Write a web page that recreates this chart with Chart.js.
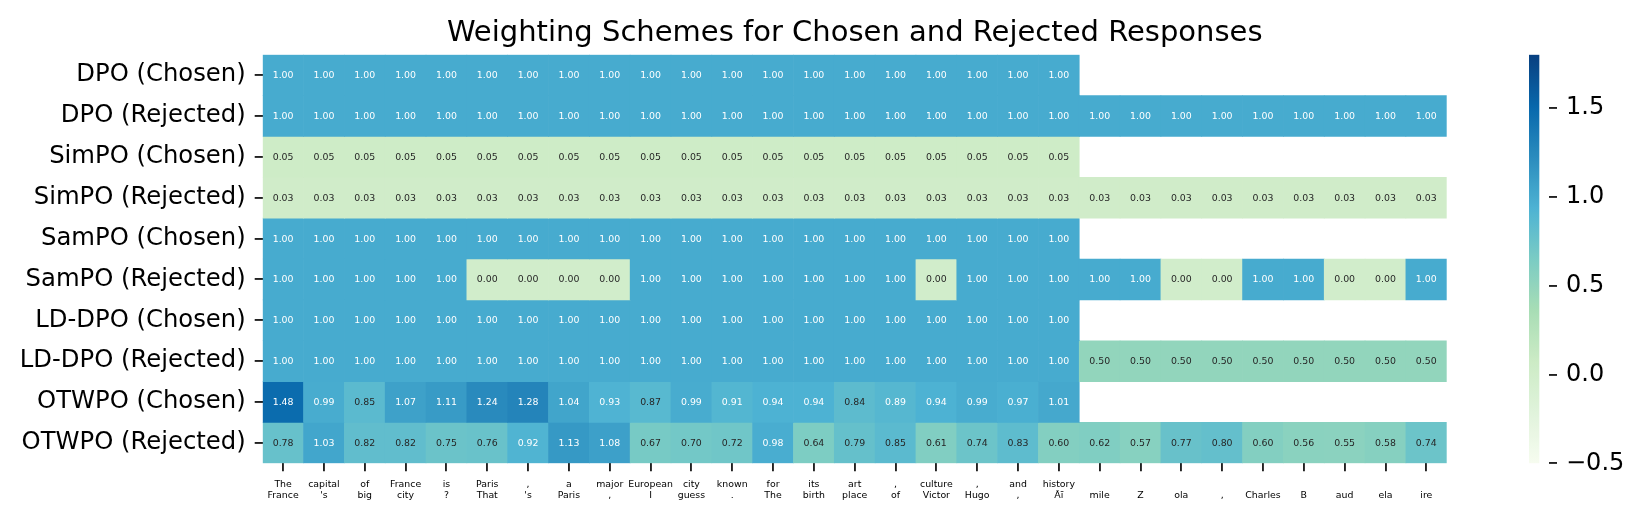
<!DOCTYPE html>
<html>
<head>
<meta charset="utf-8">
<script src="https://cdn.jsdelivr.net/npm/chart.js@4.4.1/dist/chart.umd.min.js"></script>
<style>
  html, body { margin: 0; padding: 0; background: #ffffff; }
  #wrap { position: relative; width: 1644px; height: 519px; overflow: hidden; background: #ffffff; }
  #main { position: absolute; left: 0; top: 0; }
  #cbar { position: absolute; left: 1500px; top: 0; }
</style>
</head>
<body>
<div id="wrap">
  <canvas id="main" width="1644" height="519"></canvas>
  <canvas id="cbar" width="144" height="519"></canvas>
</div>
<script>
// ---------------- DATA ----------------
const titleText = 'Weighting Schemes for Chosen and Rejected Responses';

const rowLabels = ['DPO (Chosen)', 'DPO (Rejected)', 'SimPO (Chosen)', 'SimPO (Rejected)',
  'SamPO (Chosen)', 'SamPO (Rejected)', 'LD-DPO (Chosen)', 'LD-DPO (Rejected)',
  'OTWPO (Chosen)', 'OTWPO (Rejected)'];

const chosenTokens = ['The', 'capital', 'of', 'France', 'is', 'Paris', ',', 'a', 'major', 'European',
  'city', 'known', 'for', 'its', 'art', ',', 'culture', ',', 'and', 'history'];

const rejectedTokens = ['France', "'s", 'big', 'city', '?', 'That', "'s", 'Paris', ',', 'I',
  'guess', '.', 'The', 'birth', 'place', 'of', 'Victor', 'Hugo', ',', 'Ãī',
  'mile', 'Z', 'ola', ',', 'Charles', 'B', 'aud', 'ela', 'ire'];

const dpoChosen = [1.00, 1.00, 1.00, 1.00, 1.00, 1.00, 1.00, 1.00, 1.00, 1.00,
  1.00, 1.00, 1.00, 1.00, 1.00, 1.00, 1.00, 1.00, 1.00, 1.00];
const dpoRejected = [1.00, 1.00, 1.00, 1.00, 1.00, 1.00, 1.00, 1.00, 1.00, 1.00,
  1.00, 1.00, 1.00, 1.00, 1.00, 1.00, 1.00, 1.00, 1.00, 1.00,
  1.00, 1.00, 1.00, 1.00, 1.00, 1.00, 1.00, 1.00, 1.00];
const simpoChosen = [0.05, 0.05, 0.05, 0.05, 0.05, 0.05, 0.05, 0.05, 0.05, 0.05,
  0.05, 0.05, 0.05, 0.05, 0.05, 0.05, 0.05, 0.05, 0.05, 0.05];
const simpoRejected = [0.03, 0.03, 0.03, 0.03, 0.03, 0.03, 0.03, 0.03, 0.03, 0.03,
  0.03, 0.03, 0.03, 0.03, 0.03, 0.03, 0.03, 0.03, 0.03, 0.03,
  0.03, 0.03, 0.03, 0.03, 0.03, 0.03, 0.03, 0.03, 0.03];
const sampoChosen = [1.00, 1.00, 1.00, 1.00, 1.00, 1.00, 1.00, 1.00, 1.00, 1.00,
  1.00, 1.00, 1.00, 1.00, 1.00, 1.00, 1.00, 1.00, 1.00, 1.00];
const sampoRejected = [1.00, 1.00, 1.00, 1.00, 1.00, 0.00, 0.00, 0.00, 0.00, 1.00,
  1.00, 1.00, 1.00, 1.00, 1.00, 1.00, 0.00, 1.00, 1.00, 1.00,
  1.00, 1.00, 0.00, 0.00, 1.00, 1.00, 0.00, 0.00, 1.00];
const lddpoChosen = [1.00, 1.00, 1.00, 1.00, 1.00, 1.00, 1.00, 1.00, 1.00, 1.00,
  1.00, 1.00, 1.00, 1.00, 1.00, 1.00, 1.00, 1.00, 1.00, 1.00];
const lddpoRejected = [1.00, 1.00, 1.00, 1.00, 1.00, 1.00, 1.00, 1.00, 1.00, 1.00,
  1.00, 1.00, 1.00, 1.00, 1.00, 1.00, 1.00, 1.00, 1.00, 1.00,
  0.50, 0.50, 0.50, 0.50, 0.50, 0.50, 0.50, 0.50, 0.50];
const otwpoChosen = [1.48, 0.99, 0.85, 1.07, 1.11, 1.24, 1.28, 1.04, 0.93, 0.87,
  0.99, 0.91, 0.94, 0.94, 0.84, 0.89, 0.94, 0.99, 0.97, 1.01];
const otwpoRejected = [0.78, 1.03, 0.82, 0.82, 0.75, 0.76, 0.92, 1.13, 1.08, 0.67,
  0.70, 0.72, 0.98, 0.64, 0.79, 0.85, 0.61, 0.74, 0.83, 0.60,
  0.62, 0.57, 0.77, 0.80, 0.60, 0.56, 0.55, 0.58, 0.74];

const colorbarTicks = [-0.5, 0.0, 0.5, 1.0, 1.5];
const colorMin = -0.5;
const colorMax = 1.8;

// ---------------- COLORMAP (matplotlib GnBu) ----------------
const gnbu = [
  [247, 252, 240], [224, 243, 219], [204, 235, 197], [168, 221, 181], [123, 204, 196],
  [78, 179, 211], [43, 140, 190], [8, 104, 172], [8, 64, 129]
];
function cmapAt(t) {
  t = Math.max(0, Math.min(1, t));
  const idx = Math.min(255, Math.floor(t * 256));
  t = idx / 255;
  const p = t * (gnbu.length - 1);
  const i = Math.min(gnbu.length - 2, Math.floor(p));
  const f = p - i;
  const a = gnbu[i], b = gnbu[i + 1];
  return [a[0] + (b[0] - a[0]) * f, a[1] + (b[1] - a[1]) * f, a[2] + (b[2] - a[2]) * f];
}
function rgbStr(c) { return 'rgb(' + Math.round(c[0]) + ',' + Math.round(c[1]) + ',' + Math.round(c[2]) + ')'; }
function valueColor(v) { return cmapAt((v - colorMin) / (colorMax - colorMin)); }
function relLum(c) {
  const lin = c.map(x => { x /= 255; return x <= 0.03928 ? x / 12.92 : Math.pow((x + 0.055) / 1.055, 2.4); });
  return 0.2126 * lin[0] + 0.7152 * lin[1] + 0.0722 * lin[2];
}

// ---------------- BUILD TABLES ----------------
const rows = [dpoChosen, dpoRejected, simpoChosen, simpoRejected, sampoChosen, sampoRejected,
  lddpoChosen, lddpoRejected, otwpoChosen, otwpoRejected];
const nCols = rejectedTokens.length;
const xLabels = rejectedTokens.map((r, i) => [chosenTokens[i] !== undefined ? chosenTokens[i] : '', r]);

const datasets = rows.map((vals, r) => {
  const data = [];
  for (let c = 0; c < nCols; c++) {
    data.push(vals[c] === undefined ? null : [r, r + 1]);
  }
  return {
    label: rowLabels[r],
    data: data,
    values: vals,
    grouped: false,
    barPercentage: 1.0,
    categoryPercentage: 1.0,
    borderWidth: 0,
    backgroundColor: (ctx) => {
      const v = vals[ctx.dataIndex];
      return v === undefined ? 'rgba(0,0,0,0)' : rgbStr(valueColor(v));
    }
  };
});

const FONT = "'DejaVu Sans', 'Liberation Sans', sans-serif";

const annotatePlugin = {
  id: 'annotate',
  afterDatasetsDraw(chart) {
    const ctx = chart.ctx;
    ctx.save();
    ctx.font = '9.4px ' + FONT;
    ctx.textAlign = 'center';
    ctx.textBaseline = 'middle';
    chart.data.datasets.forEach((ds, di) => {
      const meta = chart.getDatasetMeta(di);
      meta.data.forEach((el, i) => {
        const v = ds.values[i];
        if (v === undefined || ds.data[i] === null) return;
        const col = valueColor(v);
        ctx.fillStyle = relLum(col) > 0.408 ? '#262626' : '#ffffff';
        ctx.fillText(v.toFixed(2), el.x, (el.y + el.base) / 2 + 0.5);
      });
    });
    ctx.restore();
  }
};

const AX_LEFT = 262.7, AX_RIGHT = 1446.7, AX_TOP = 54.7, AX_BOTTOM = 463.3;
const TITLE_SIZE = 29;
const TITLE_PAD_TOP = 16;

new Chart(document.getElementById('main'), {
  type: 'bar',
  data: { labels: xLabels, datasets: datasets },
  options: {
    responsive: false,
    animation: false,
    devicePixelRatio: 1,
    layout: { padding: { left: 0, right: 1644 - AX_RIGHT, top: 0, bottom: 0 } },
    plugins: {
      legend: { display: false },
      tooltip: { enabled: false },
      title: {
        display: true,
        text: titleText,
        color: '#000000',
        fullSize: false,
        font: { family: FONT, size: TITLE_SIZE, weight: 'normal', lineHeight: 1.2 },
        padding: { top: TITLE_PAD_TOP, bottom: AX_TOP - TITLE_PAD_TOP - TITLE_SIZE * 1.2 }
      }
    },
    scales: {
      x: {
        type: 'category',
        offset: true,
        grid: { offset: false, drawOnChartArea: false, drawTicks: true, tickLength: 8, color: '#222222', lineWidth: 1.9 },
        border: { display: false },
        ticks: { autoSkip: false, maxRotation: 0, minRotation: 0, padding: 8, color: '#000000',
          font: { family: FONT, size: 9.4, lineHeight: 1.15 } },
        afterFit: (s) => { s.height = 519 - AX_BOTTOM; }
      },
      y: {
        type: 'linear',
        min: 0, max: rowLabels.length,
        reverse: true,
        grid: { drawOnChartArea: false, drawTicks: true, tickLength: 8, color: '#222222', lineWidth: 1.9 },
        border: { display: false },
        afterBuildTicks: (axis) => { axis.ticks = rowLabels.map((_, i) => ({ value: i + 0.5 })); },
        ticks: { padding: 9, color: '#000000', font: { family: FONT, size: 24.3 },
          callback: (v) => rowLabels[Math.floor(v)] },
        afterFit: (s) => { s.width = AX_LEFT; }
      }
    }
  },
  plugins: [annotatePlugin]
});

// ---------------- COLORBAR ----------------
const CB_LEFT = 29, CB_W = 20;
new Chart(document.getElementById('cbar'), {
  type: 'bar',
  data: { labels: ['scale'], datasets: [{
    data: [[colorMin, colorMax]],
    barPercentage: 1.0, categoryPercentage: 1.0, borderWidth: 0,
    backgroundColor: (ctx) => {
      const chart = ctx.chart;
      const ca = chart.chartArea;
      if (!ca) return 'rgba(0,0,0,0)';
      const y = chart.scales.y;
      const g = chart.ctx.createLinearGradient(0, y.getPixelForValue(colorMin), 0, y.getPixelForValue(colorMax));
      for (let k = 0; k <= 64; k++) {
        g.addColorStop(k / 64, rgbStr(cmapAt(k / 64)));
      }
      return g;
    }
  }]},
  options: {
    responsive: false,
    animation: false,
    devicePixelRatio: 1,
    layout: { padding: { left: CB_LEFT, right: 0, top: AX_TOP, bottom: 519 - AX_BOTTOM } },
    plugins: { legend: { display: false }, tooltip: { enabled: false }, title: { display: false } },
    scales: {
      x: { display: false, offset: false },
      y: {
        type: 'linear',
        position: 'right',
        min: colorMin, max: colorMax,
        grid: { drawOnChartArea: false, drawTicks: true, tickLength: 8, color: '#222222', lineWidth: 1.9 },
        border: { display: false },
        afterBuildTicks: (axis) => { axis.ticks = colorbarTicks.map(v => ({ value: v })); },
        ticks: { padding: 9, color: '#000000', font: { family: FONT, size: 24 },
          callback: (v) => (v < 0 ? '\u2212' : '') + Math.abs(v).toFixed(1) },
        afterFit: (s) => { s.width = 144 - CB_LEFT - CB_W; }
      }
    }
  }
});
</script>
</body>
</html>
